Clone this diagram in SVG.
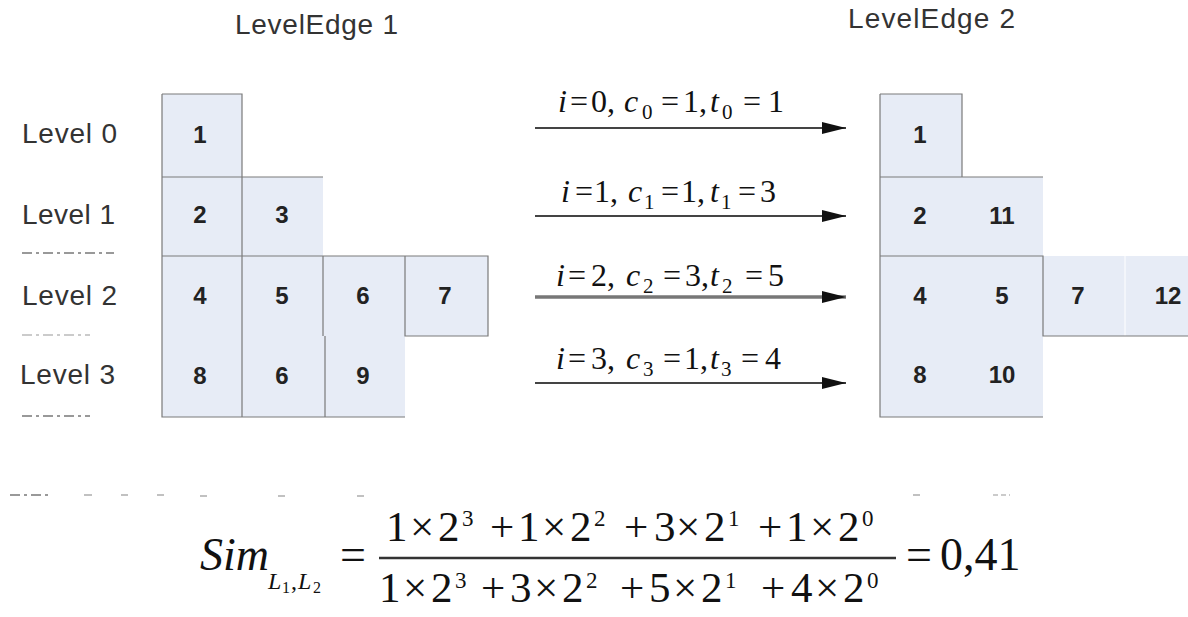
<svg xmlns="http://www.w3.org/2000/svg" width="1188" height="617" viewBox="0 0 1188 617">
<style>
.cell{fill:#e7ecf6;stroke:none}
.bd{stroke:#7a7a7a;stroke-width:1.2;fill:none}
.num{font-family:"Liberation Sans",Arial,sans-serif;font-weight:bold;font-size:24px;fill:#222;text-anchor:middle}
.lvl{font-family:"Liberation Sans",Arial,sans-serif;font-size:28px;fill:#333}
.ttl{font-family:"Liberation Sans",Arial,sans-serif;font-size:28px;fill:#333}
.m{font-family:"Liberation Serif","Times New Roman",serif;font-size:32px;fill:#111}
.s{font-size:21px}
.f{font-family:"Liberation Serif","Times New Roman",serif;font-size:43px;fill:#111}
.sp{font-size:23px}
.big{font-size:46px}
.sub{font-size:24px}
.sub2{font-size:16px}
.it{font-style:italic}
.arr{stroke:#444;stroke-width:1.8;fill:none}
.dash{stroke:#999;stroke-width:2;stroke-dasharray:10 4 3 4}
</style>
<defs>
<marker id="ah" viewBox="0 0 24 12" refX="24" refY="6" markerWidth="24" markerHeight="12" markerUnits="userSpaceOnUse" orient="auto">
<path d="M0,0 L24,6 L0,12 Z" fill="#111"/>
</marker>
</defs>
<rect width="1188" height="617" fill="#fff"/>
<text class="ttl" x="235" y="34" textLength="163">LevelEdge 1</text>
<text class="ttl" x="848" y="28" textLength="167">LevelEdge 2</text>
<g id="levels">
<text class="lvl" x="22" y="143" textLength="95">Level 0</text>
<text class="lvl" x="22" y="224" textLength="93">Level 1</text>
<text class="lvl" x="22" y="305" textLength="95">Level 2</text>
<text class="lvl" x="20" y="384" textLength="95">Level 3</text>
<line class="dash" x1="22" y1="253" x2="114" y2="253" stroke="#777"/>
<line class="dash" x1="22" y1="335" x2="90" y2="335" opacity="0.5"/>
<line class="dash" x1="22" y1="416" x2="90" y2="416"/>
<line class="dash" x1="10" y1="495" x2="50" y2="495"/>
<line class="dash" x1="84" y1="495" x2="92" y2="495" opacity="0.6"/>
<line class="dash" x1="121" y1="495" x2="128" y2="495" opacity="0.6"/>
<line class="dash" x1="157" y1="495" x2="164" y2="495" opacity="0.6"/>
<line class="dash" x1="200" y1="496" x2="207" y2="496" opacity="0.6"/>
<line class="dash" x1="278" y1="496" x2="285" y2="496" opacity="0.6"/>
<line class="dash" x1="357" y1="496" x2="364" y2="496" opacity="0.6"/>
<line class="dash" x1="913" y1="495" x2="920" y2="495" opacity="0.6"/>
<line class="dash" x1="993" y1="495" x2="1010" y2="495" opacity="0.5" style="stroke-dasharray:5 3"/>
<line x1="276" y1="335" x2="286" y2="335" stroke="#aaa" stroke-width="2"/>
</g>
<g id="edge1">
<rect class="cell" x="162" y="94" width="80" height="83"/>
<rect class="cell" x="162" y="177" width="161" height="80"/>
<rect class="cell" x="162" y="256" width="243" height="161"/>
<rect class="cell" x="405" y="256" width="83" height="80"/>
<path class="bd" d="M162,94 H242 V177 M162,94 V417 H405 M162,177 H323 M162,256 H405 M242,177 V417 M323,256 V336 M325,336 V417 M405,256 H488 V336 H405 Z"/>
<text class="num" x="200" y="143">1</text>
<text class="num" x="200" y="223">2</text>
<text class="num" x="282" y="223">3</text>
<text class="num" x="200" y="304">4</text>
<text class="num" x="282" y="304">5</text>
<text class="num" x="363" y="304">6</text>
<text class="num" x="445" y="304">7</text>
<text class="num" x="200" y="384">8</text>
<text class="num" x="282" y="384">6</text>
<text class="num" x="363" y="384">9</text>
</g>
<g id="edge2">
<rect class="cell" x="880" y="94" width="82" height="83"/>
<rect class="cell" x="880" y="177" width="163" height="240"/>
<rect class="cell" x="1043" y="256" width="145" height="80"/>
<line x1="1125" y1="256" x2="1125" y2="336" stroke="#fff" stroke-width="1"/>
<path class="bd" d="M880,94 H962 V177 M880,94 V417 H1043 M880,177 H1043 M880,256 H1043 V336 H1188"/>
<text class="num" x="920" y="143">1</text>
<text class="num" x="920" y="224">2</text>
<text class="num" x="1002" y="224">11</text>
<text class="num" x="920" y="304">4</text>
<text class="num" x="1002" y="304">5</text>
<text class="num" x="1078" y="304">7</text>
<text class="num" x="1168" y="304">12</text>
<text class="num" x="920" y="383">8</text>
<text class="num" x="1002" y="383">10</text>
</g>
<g id="connectors">
<line class="arr" x1="535" y1="128" x2="846" y2="128" marker-end="url(#ah)"/>
<line class="arr" x1="535" y1="216" x2="846" y2="216" marker-end="url(#ah)"/>
<line class="arr" x1="535" y1="297" x2="846" y2="297" marker-end="url(#ah)" style="stroke-width:3.5;stroke:#777"/>
<line class="arr" x1="535" y1="383" x2="846" y2="383" marker-end="url(#ah)"/>
<text class="m" y="112"><tspan class="it" x="558">i</tspan><tspan x="570">=</tspan><tspan x="591">0,</tspan><tspan class="it" x="624">c</tspan><tspan class="s" x="642" y="119">0</tspan><tspan x="661" y="112">=</tspan><tspan x="683">1,</tspan><tspan class="it" x="710">t</tspan><tspan class="s" x="722" y="119">0</tspan><tspan x="743" y="112">=</tspan><tspan x="768">1</tspan></text>
<text class="m" y="202"><tspan class="it" x="561">i</tspan><tspan x="575">=</tspan><tspan x="594">1,</tspan><tspan class="it" x="628">c</tspan><tspan class="s" x="644" y="209">1</tspan><tspan x="661" y="202">=</tspan><tspan x="681">1,</tspan><tspan class="it" x="710">t</tspan><tspan class="s" x="721" y="209">1</tspan><tspan x="738" y="202">=</tspan><tspan x="760">3</tspan></text>
<text class="m" y="286"><tspan class="it" x="556">i</tspan><tspan x="568">=</tspan><tspan x="591">2,</tspan><tspan class="it" x="626">c</tspan><tspan class="s" x="643" y="293">2</tspan><tspan x="663" y="286">=</tspan><tspan x="685">3,</tspan><tspan class="it" x="710">t</tspan><tspan class="s" x="722" y="293">2</tspan><tspan x="745" y="286">=</tspan><tspan x="768">5</tspan></text>
<text class="m" y="369"><tspan class="it" x="556">i</tspan><tspan x="568">=</tspan><tspan x="591">3,</tspan><tspan class="it" x="626">c</tspan><tspan class="s" x="643" y="376">3</tspan><tspan x="663" y="369">=</tspan><tspan x="684">1,</tspan><tspan class="it" x="710">t</tspan><tspan class="s" x="721" y="376">3</tspan><tspan x="741" y="369">=</tspan><tspan x="765">4</tspan></text>
</g>
<g id="formula">
<text class="f big it" x="200" y="570">Sim</text>
<text class="f sub" y="589"><tspan class="it" x="268">L</tspan><tspan class="sub2" x="282" y="593">1</tspan><tspan x="291" y="589">,</tspan><tspan class="it" x="298">L</tspan><tspan class="sub2" x="313" y="593">2</tspan></text>
<text class="f big" x="340" y="570">=</text>
<text class="f" y="541"><tspan x="386">1</tspan><tspan x="410">×</tspan><tspan x="438">2</tspan><tspan x="490">+</tspan><tspan x="518">1</tspan><tspan x="542">×</tspan><tspan x="570">2</tspan><tspan x="624">+</tspan><tspan x="654">3</tspan><tspan x="676">×</tspan><tspan x="704">2</tspan><tspan x="758">+</tspan><tspan x="786">1</tspan><tspan x="810">×</tspan><tspan x="838">2</tspan></text>
<text class="f sp" y="526"><tspan x="462">3</tspan><tspan x="594">2</tspan><tspan x="728">1</tspan><tspan x="862">0</tspan></text>
<line x1="379" y1="558" x2="896" y2="558" stroke="#333" stroke-width="2.5"/>
<text class="f" y="602"><tspan x="379">1</tspan><tspan x="403">×</tspan><tspan x="431">2</tspan><tspan x="481">+</tspan><tspan x="510">3</tspan><tspan x="534">×</tspan><tspan x="562">2</tspan><tspan x="620">+</tspan><tspan x="649">5</tspan><tspan x="673">×</tspan><tspan x="701">2</tspan><tspan x="761">+</tspan><tspan x="791">4</tspan><tspan x="815">×</tspan><tspan x="843">2</tspan></text>
<text class="f sp" y="588"><tspan x="455">3</tspan><tspan x="586">2</tspan><tspan x="725">1</tspan><tspan x="867">0</tspan></text>
<text class="f big" x="906" y="570">=</text>
<text class="f big" x="940" y="570">0,41</text>
</g>
</svg>
